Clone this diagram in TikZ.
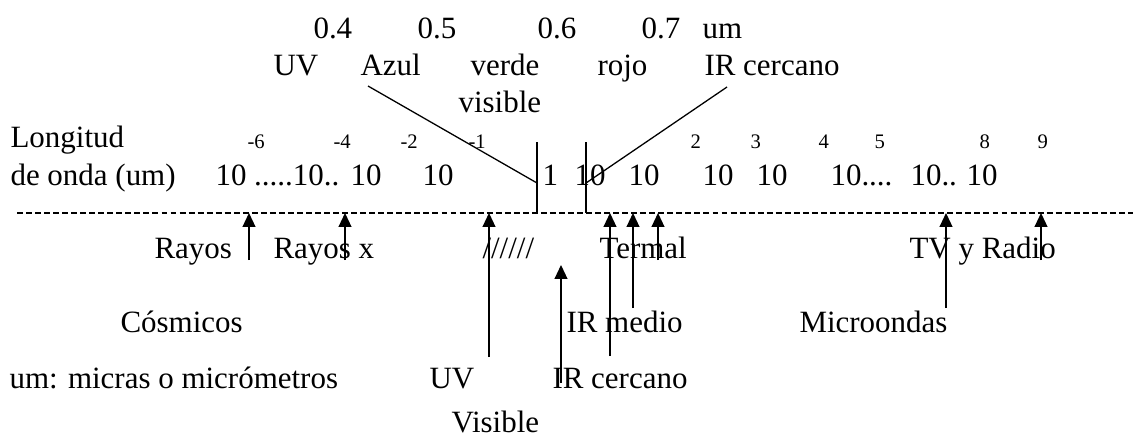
\documentclass[tikz,border=0pt]{standalone}
\usepackage{fontspec}
\setmainfont{Liberation Serif}
\usetikzlibrary{arrows.meta}
\begin{document}
\begin{tikzpicture}[x=0.3875pt,y=-0.3875pt,
  txt/.style={anchor=base west,inner sep=0pt,font=\fontsize{12}{14}\selectfont},
  expo/.style={anchor=base west,inner sep=0pt,font=\fontsize{8}{9}\selectfont},
  flecha/.style={-{Triangle[width=5pt,length=5.4pt]},line width=0.5pt}]
\useasboundingbox (0,0) rectangle (1133,443);

% Visible band (top)
\node[txt] (n04) at (313,38) {0.4};
\node[txt] (n05) at (417,38) {0.5};
\node[txt] (n06) at (537,38) {0.6};
\node[txt] (n07) at (641,38) {0.7};
\node[txt] (num) at (702,38) {um};
\node[txt] (tuv) at (273,75) {UV};
\node[txt] (tazul) at (360,75) {Azul};
\node[txt] (tverde) at (470,75) {verde};
\node[txt] (trojo) at (597,75) {rojo};
\node[txt] (tirc) at (704,75) {IR cercano};
\node[txt] (tvis) at (458,112) {visible};

% Zoom lines
\draw[line width=0.5pt] (368,86) -- (537,183);
\draw[line width=0.5pt] (727,87) -- (586,183);
\draw[line width=0.5pt] (537,142) -- (537,213);
\draw[line width=0.5pt] (586,142) -- (586,213);

% Wavelength row
\node[txt] (lon) at (10,147) {Longitud};
\node[txt] (onda) at (10,185) {de onda (um)};
\node[expo] (e6) at (247,148) {-6};
\node[expo] (e4) at (333,148) {-4};
\node[expo] (e2) at (400,148) {-2};
\node[expo] (e1) at (468,148) {-1};
\node[expo] (p2) at (690,148) {2};
\node[expo] (p3) at (750,148) {3};
\node[expo] (p4) at (818,148) {4};
\node[expo] (p5) at (874,148) {5};
\node[expo] (p8) at (979,148) {8};
\node[expo] (p9) at (1037,148) {9};
\node[txt] (d6) at (215,185) {10 .....10..};
\node[txt] (d2) at (350,185) {10};
\node[txt] (d1) at (422,185) {10};
\node[txt] (d0) at (542,185) {1};
\node[txt] (u1) at (574,185) {10};
\node[txt] (u2) at (628,185) {10};
\node[txt] (u3) at (702,185) {10};
\node[txt] (u4) at (756,185) {10};
\node[txt] (u5) at (830,185) {10....};
\node[txt] (u8) at (910,185) {10..};
\node[txt] (u9) at (966,185) {10};

% Axis
\draw[line width=0.7pt,dash pattern=on 2.3pt off 1.2pt] (17,213) -- (1133,213);

% Arrows
\draw[flecha] (249,260) -- (249,213);
\draw[flecha] (345,260) -- (345,213);
\draw[flecha] (489,357) -- (489,213);
\draw[flecha] (561,383) -- (561,265);
\draw[flecha] (610,356) -- (610,213);
\draw[flecha] (633,308) -- (633,213);
\draw[flecha] (658,260) -- (658,213);
\draw[flecha] (946,308) -- (946,213);
\draw[flecha] (1041,260) -- (1041,213);

% Regions
\node[txt] (rc) at (154,258) {Rayos};
\node[txt] (rx) at (273,258) {Rayos x};
\node[txt] (rsl) at (482,258) {//////};
\node[txt] (rter) at (599,258) {Termal};
\node[txt] (rtv) at (909,258) {TV y Radio};
\node[txt] (rcos) at (120,332) {Cósmicos};
\node[txt] (rirm) at (566,332) {IR medio};
\node[txt] (rmic) at (799,332) {Microondas};
\node[txt] (nota) at (9,388) {um: micras o micrómetros};
\node[txt] (ruv) at (429,388) {UV};
\node[txt] (rirc) at (552,388) {IR cercano};
\node[txt] (rvis) at (451,432) {Visible};
\end{tikzpicture}
\end{document}
